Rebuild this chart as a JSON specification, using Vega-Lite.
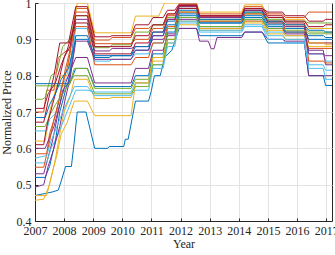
{
"$schema": "https://vega.github.io/schema/vega-lite/v6.json",
"width": 297, "height": 218,
"autosize": {"type": "none"},
"padding": {"left": 35, "top": 3, "right": 3, "bottom": 34},
"background": "white",
"config": {
 "view": {"stroke": "#262626", "strokeWidth": 1},
 "axis": {"labelFont": "Liberation Serif", "labelFontSize": 12, "labelColor": "#262626", "titleFont": "Liberation Serif", "titleFontSize": 12, "titleFontWeight": "normal", "titleColor": "#262626", "gridColor": "#e3e3e3", "domainColor": "#262626", "tickColor": "#262626", "tickSize": -3, "labelPadding": 7}
},
"data": {"values": [
{"s":1,"t":2007,"v":0.47},{"s":1,"t":2007.6,"v":0.48},{"s":1,"t":2007.8,"v":0.485},{"s":1,"t":2007.9,"v":0.51},{"s":1,"t":2008.05,"v":0.55},{"s":1,"t":2008.25,"v":0.55},{"s":1,"t":2008.35,"v":0.62},{"s":1,"t":2008.45,"v":0.70},{"s":1,"t":2008.75,"v":0.70},{"s":1,"t":2009.05,"v":0.60},{"s":1,"t":2009.5,"v":0.60},{"s":1,"t":2009.55,"v":0.605},{"s":1,"t":2010.05,"v":0.605},{"s":1,"t":2010.1,"v":0.625},{"s":1,"t":2010.2,"v":0.625},{"s":1,"t":2010.45,"v":0.73},{"s":1,"t":2010.9,"v":0.73},{"s":1,"t":2011.0,"v":0.76},{"s":1,"t":2011.1,"v":0.80},{"s":1,"t":2011.3,"v":0.80},{"s":1,"t":2011.45,"v":0.85},{"s":1,"t":2011.7,"v":0.87},{"s":1,"t":2011.95,"v":0.93},{"s":1,"t":2012.55,"v":0.93},{"s":1,"t":2012.65,"v":0.91},{"s":1,"t":2014.1,"v":0.91},{"s":1,"t":2014.2,"v":0.92},{"s":1,"t":2014.8,"v":0.92},{"s":1,"t":2015.0,"v":0.89},{"s":1,"t":2016.25,"v":0.89},{"s":1,"t":2016.4,"v":0.80},{"s":1,"t":2016.9,"v":0.80},{"s":1,"t":2016.98,"v":0.773},{"s":1,"t":2017.2,"v":0.773},
{"s":2,"t":2007,"v":0.70},{"s":2,"t":2007.3,"v":0.70},{"s":2,"t":2007.4,"v":0.76},{"s":2,"t":2007.65,"v":0.76},{"s":2,"t":2007.8,"v":0.85},{"s":2,"t":2008.1,"v":0.87},{"s":2,"t":2008.2,"v":0.87},{"s":2,"t":2008.4,"v":0.985},{"s":2,"t":2008.8,"v":0.985},{"s":2,"t":2009.05,"v":0.898},{"s":2,"t":2009.55,"v":0.898},{"s":2,"t":2009.65,"v":0.905},{"s":2,"t":2010.3,"v":0.905},{"s":2,"t":2010.45,"v":0.93},{"s":2,"t":2010.9,"v":0.93},{"s":2,"t":2011.05,"v":0.94},{"s":2,"t":2011.4,"v":0.94},{"s":2,"t":2011.55,"v":0.97},{"s":2,"t":2011.8,"v":0.97},{"s":2,"t":2011.95,"v":0.995},{"s":2,"t":2012.55,"v":0.995},{"s":2,"t":2012.65,"v":0.97},{"s":2,"t":2014.1,"v":0.97},{"s":2,"t":2014.2,"v":0.99},{"s":2,"t":2014.8,"v":0.99},{"s":2,"t":2015.0,"v":0.97},{"s":2,"t":2015.5,"v":0.97},{"s":2,"t":2015.6,"v":0.96},{"s":2,"t":2016.25,"v":0.96},{"s":2,"t":2016.4,"v":0.975},{"s":2,"t":2017.2,"v":0.975},
{"s":3,"t":2007,"v":0.62},{"s":3,"t":2007.35,"v":0.62},{"s":3,"t":2007.5,"v":0.70},{"s":3,"t":2007.7,"v":0.76},{"s":3,"t":2007.9,"v":0.80},{"s":3,"t":2008.1,"v":0.80},{"s":3,"t":2008.2,"v":0.86},{"s":3,"t":2008.45,"v":1.0},{"s":3,"t":2008.8,"v":1.0},{"s":3,"t":2009.05,"v":0.918},{"s":3,"t":2010.3,"v":0.918},{"s":3,"t":2010.45,"v":0.964},{"s":3,"t":2011.25,"v":0.964},{"s":3,"t":2011.45,"v":1.0},{"s":3,"t":2012.55,"v":1.0},{"s":3,"t":2012.65,"v":0.975},{"s":3,"t":2014.1,"v":0.975},{"s":3,"t":2014.2,"v":0.995},{"s":3,"t":2014.8,"v":0.995},{"s":3,"t":2015.0,"v":0.96},{"s":3,"t":2015.5,"v":0.96},{"s":3,"t":2015.6,"v":0.955},{"s":3,"t":2016.25,"v":0.955},{"s":3,"t":2016.4,"v":0.93},{"s":3,"t":2017.2,"v":0.93},
{"s":4,"t":2007,"v":0.53},{"s":4,"t":2007.3,"v":0.53},{"s":4,"t":2007.4,"v":0.56},{"s":4,"t":2007.6,"v":0.62},{"s":4,"t":2007.8,"v":0.70},{"s":4,"t":2007.95,"v":0.76},{"s":4,"t":2008.15,"v":0.78},{"s":4,"t":2008.4,"v":0.955},{"s":4,"t":2008.8,"v":0.955},{"s":4,"t":2009.05,"v":0.868},{"s":4,"t":2009.55,"v":0.868},{"s":4,"t":2009.65,"v":0.875},{"s":4,"t":2010.3,"v":0.875},{"s":4,"t":2010.45,"v":0.88},{"s":4,"t":2010.9,"v":0.88},{"s":4,"t":2011.05,"v":0.90},{"s":4,"t":2011.4,"v":0.90},{"s":4,"t":2011.55,"v":0.915},{"s":4,"t":2011.8,"v":0.915},{"s":4,"t":2011.95,"v":0.93},{"s":4,"t":2012.55,"v":0.93},{"s":4,"t":2012.65,"v":0.895},{"s":4,"t":2012.95,"v":0.895},{"s":4,"t":2013.05,"v":0.874},{"s":4,"t":2013.15,"v":0.874},{"s":4,"t":2013.25,"v":0.905},{"s":4,"t":2014.1,"v":0.905},{"s":4,"t":2014.2,"v":0.92},{"s":4,"t":2014.8,"v":0.92},{"s":4,"t":2015.0,"v":0.90},{"s":4,"t":2015.5,"v":0.90},{"s":4,"t":2015.6,"v":0.895},{"s":4,"t":2016.25,"v":0.895},{"s":4,"t":2016.4,"v":0.80},{"s":4,"t":2017.2,"v":0.80},
{"s":5,"t":2007,"v":0.735},{"s":5,"t":2007.25,"v":0.735},{"s":5,"t":2007.35,"v":0.74},{"s":5,"t":2007.55,"v":0.80},{"s":5,"t":2007.75,"v":0.81},{"s":5,"t":2007.95,"v":0.88},{"s":5,"t":2008.2,"v":0.90},{"s":5,"t":2008.4,"v":0.965},{"s":5,"t":2008.8,"v":0.965},{"s":5,"t":2009.05,"v":0.877},{"s":5,"t":2009.55,"v":0.877},{"s":5,"t":2009.65,"v":0.885},{"s":5,"t":2010.3,"v":0.885},{"s":5,"t":2010.45,"v":0.92},{"s":5,"t":2010.9,"v":0.92},{"s":5,"t":2011.05,"v":0.94},{"s":5,"t":2011.4,"v":0.94},{"s":5,"t":2011.55,"v":0.96},{"s":5,"t":2011.8,"v":0.96},{"s":5,"t":2011.95,"v":0.985},{"s":5,"t":2012.55,"v":0.985},{"s":5,"t":2012.65,"v":0.955},{"s":5,"t":2014.1,"v":0.955},{"s":5,"t":2014.2,"v":0.975},{"s":5,"t":2014.8,"v":0.975},{"s":5,"t":2015.0,"v":0.955},{"s":5,"t":2015.5,"v":0.955},{"s":5,"t":2015.6,"v":0.95},{"s":5,"t":2016.25,"v":0.95},{"s":5,"t":2016.4,"v":0.945},{"s":5,"t":2017.2,"v":0.945},
{"s":6,"t":2007,"v":0.648},{"s":6,"t":2007.4,"v":0.648},{"s":6,"t":2007.5,"v":0.68},{"s":6,"t":2007.75,"v":0.70},{"s":6,"t":2007.9,"v":0.77},{"s":6,"t":2008.15,"v":0.80},{"s":6,"t":2008.4,"v":0.93},{"s":6,"t":2008.8,"v":0.93},{"s":6,"t":2009.05,"v":0.84},{"s":6,"t":2009.55,"v":0.84},{"s":6,"t":2009.65,"v":0.845},{"s":6,"t":2010.3,"v":0.845},{"s":6,"t":2010.45,"v":0.86},{"s":6,"t":2010.9,"v":0.86},{"s":6,"t":2011.05,"v":0.89},{"s":6,"t":2011.4,"v":0.89},{"s":6,"t":2011.55,"v":0.93},{"s":6,"t":2011.8,"v":0.93},{"s":6,"t":2011.95,"v":0.96},{"s":6,"t":2012.55,"v":0.96},{"s":6,"t":2012.65,"v":0.935},{"s":6,"t":2014.1,"v":0.935},{"s":6,"t":2014.2,"v":0.955},{"s":6,"t":2014.8,"v":0.955},{"s":6,"t":2015.0,"v":0.92},{"s":6,"t":2015.5,"v":0.92},{"s":6,"t":2015.6,"v":0.91},{"s":6,"t":2016.25,"v":0.91},{"s":6,"t":2016.4,"v":0.86},{"s":6,"t":2016.9,"v":0.86},{"s":6,"t":2016.98,"v":0.84},{"s":6,"t":2017.2,"v":0.84},
{"s":7,"t":2007,"v":0.672},{"s":7,"t":2007.3,"v":0.672},{"s":7,"t":2007.45,"v":0.73},{"s":7,"t":2007.65,"v":0.80},{"s":7,"t":2007.85,"v":0.89},{"s":7,"t":2008.15,"v":0.89},{"s":7,"t":2008.4,"v":0.99},{"s":7,"t":2008.8,"v":0.99},{"s":7,"t":2009.05,"v":0.907},{"s":7,"t":2009.55,"v":0.907},{"s":7,"t":2009.65,"v":0.91},{"s":7,"t":2010.3,"v":0.91},{"s":7,"t":2010.45,"v":0.94},{"s":7,"t":2010.9,"v":0.94},{"s":7,"t":2011.05,"v":0.96},{"s":7,"t":2011.4,"v":0.96},{"s":7,"t":2011.55,"v":0.98},{"s":7,"t":2011.8,"v":0.98},{"s":7,"t":2011.95,"v":0.997},{"s":7,"t":2012.55,"v":0.997},{"s":7,"t":2012.65,"v":0.965},{"s":7,"t":2014.1,"v":0.965},{"s":7,"t":2014.2,"v":0.985},{"s":7,"t":2014.8,"v":0.985},{"s":7,"t":2015.0,"v":0.975},{"s":7,"t":2015.5,"v":0.975},{"s":7,"t":2015.6,"v":0.965},{"s":7,"t":2016.25,"v":0.965},{"s":7,"t":2016.4,"v":0.95},{"s":7,"t":2016.9,"v":0.95},{"s":7,"t":2016.98,"v":0.955},{"s":7,"t":2017.2,"v":0.955},
{"s":8,"t":2007,"v":0.778},{"s":8,"t":2008.2,"v":0.778},{"s":8,"t":2008.25,"v":0.79},{"s":8,"t":2008.4,"v":0.82},{"s":8,"t":2008.8,"v":0.82},{"s":8,"t":2009.05,"v":0.77},{"s":8,"t":2010.3,"v":0.77},{"s":8,"t":2010.45,"v":0.80},{"s":8,"t":2010.9,"v":0.80},{"s":8,"t":2011.05,"v":0.86},{"s":8,"t":2011.4,"v":0.86},{"s":8,"t":2011.55,"v":0.92},{"s":8,"t":2011.8,"v":0.92},{"s":8,"t":2011.95,"v":0.965},{"s":8,"t":2012.55,"v":0.965},{"s":8,"t":2012.65,"v":0.945},{"s":8,"t":2014.1,"v":0.945},{"s":8,"t":2014.2,"v":0.965},{"s":8,"t":2014.8,"v":0.965},{"s":8,"t":2015.0,"v":0.94},{"s":8,"t":2015.5,"v":0.94},{"s":8,"t":2015.6,"v":0.93},{"s":8,"t":2016.25,"v":0.93},{"s":8,"t":2016.4,"v":0.90},{"s":8,"t":2017.2,"v":0.90},
{"s":9,"t":2007,"v":0.585},{"s":9,"t":2007.4,"v":0.585},{"s":9,"t":2007.5,"v":0.64},{"s":9,"t":2007.7,"v":0.69},{"s":9,"t":2007.9,"v":0.76},{"s":9,"t":2008.1,"v":0.82},{"s":9,"t":2008.2,"v":0.86},{"s":9,"t":2008.4,"v":0.975},{"s":9,"t":2008.8,"v":0.975},{"s":9,"t":2009.05,"v":0.888},{"s":9,"t":2010.3,"v":0.888},{"s":9,"t":2010.45,"v":0.90},{"s":9,"t":2010.9,"v":0.90},{"s":9,"t":2011.05,"v":0.93},{"s":9,"t":2011.4,"v":0.93},{"s":9,"t":2011.55,"v":0.965},{"s":9,"t":2011.8,"v":0.965},{"s":9,"t":2011.95,"v":0.99},{"s":9,"t":2012.55,"v":0.99},{"s":9,"t":2012.65,"v":0.96},{"s":9,"t":2014.1,"v":0.96},{"s":9,"t":2014.2,"v":0.98},{"s":9,"t":2014.8,"v":0.98},{"s":9,"t":2015.0,"v":0.95},{"s":9,"t":2015.5,"v":0.95},{"s":9,"t":2015.6,"v":0.92},{"s":9,"t":2016.25,"v":0.92},{"s":9,"t":2016.4,"v":0.875},{"s":9,"t":2017.2,"v":0.875},
{"s":10,"t":2007,"v":0.457},{"s":10,"t":2007.3,"v":0.46},{"s":10,"t":2007.5,"v":0.50},{"s":10,"t":2007.7,"v":0.57},{"s":10,"t":2007.85,"v":0.64},{"s":10,"t":2008.0,"v":0.70},{"s":10,"t":2008.2,"v":0.74},{"s":10,"t":2008.35,"v":0.79},{"s":10,"t":2008.8,"v":0.79},{"s":10,"t":2009.05,"v":0.737},{"s":10,"t":2009.55,"v":0.737},{"s":10,"t":2009.65,"v":0.74},{"s":10,"t":2010.3,"v":0.74},{"s":10,"t":2010.45,"v":0.78},{"s":10,"t":2010.9,"v":0.78},{"s":10,"t":2011.05,"v":0.84},{"s":10,"t":2011.4,"v":0.84},{"s":10,"t":2011.55,"v":0.89},{"s":10,"t":2011.8,"v":0.89},{"s":10,"t":2011.95,"v":0.94},{"s":10,"t":2012.55,"v":0.94},{"s":10,"t":2012.65,"v":0.925},{"s":10,"t":2014.1,"v":0.925},{"s":10,"t":2014.2,"v":0.945},{"s":10,"t":2014.8,"v":0.945},{"s":10,"t":2015.0,"v":0.915},{"s":10,"t":2015.5,"v":0.915},{"s":10,"t":2015.6,"v":0.90},{"s":10,"t":2016.25,"v":0.90},{"s":10,"t":2016.4,"v":0.88},{"s":10,"t":2017.2,"v":0.88},
{"s":11,"t":2007,"v":0.60},{"s":11,"t":2007.35,"v":0.60},{"s":11,"t":2007.45,"v":0.62},{"s":11,"t":2007.65,"v":0.66},{"s":11,"t":2007.85,"v":0.72},{"s":11,"t":2008.05,"v":0.78},{"s":11,"t":2008.4,"v":0.85},{"s":11,"t":2008.8,"v":0.85},{"s":11,"t":2009.05,"v":0.78},{"s":11,"t":2010.3,"v":0.78},{"s":11,"t":2010.45,"v":0.82},{"s":11,"t":2010.9,"v":0.82},{"s":11,"t":2011.05,"v":0.87},{"s":11,"t":2011.4,"v":0.87},{"s":11,"t":2011.55,"v":0.91},{"s":11,"t":2011.8,"v":0.91},{"s":11,"t":2011.95,"v":0.955},{"s":11,"t":2012.55,"v":0.955},{"s":11,"t":2012.65,"v":0.93},{"s":11,"t":2014.1,"v":0.93},{"s":11,"t":2014.2,"v":0.95},{"s":11,"t":2014.8,"v":0.95},{"s":11,"t":2015.0,"v":0.93},{"s":11,"t":2015.5,"v":0.93},{"s":11,"t":2015.6,"v":0.915},{"s":11,"t":2016.25,"v":0.915},{"s":11,"t":2016.4,"v":0.87},{"s":11,"t":2016.9,"v":0.87},{"s":11,"t":2016.98,"v":0.83},{"s":11,"t":2017.2,"v":0.83},
{"s":12,"t":2007,"v":0.772},{"s":12,"t":2008.15,"v":0.772},{"s":12,"t":2008.2,"v":0.78},{"s":12,"t":2008.35,"v":0.82},{"s":12,"t":2008.8,"v":0.82},{"s":12,"t":2009.05,"v":0.765},{"s":12,"t":2010.3,"v":0.765},{"s":12,"t":2010.45,"v":0.79},{"s":12,"t":2010.9,"v":0.79},{"s":12,"t":2011.05,"v":0.85},{"s":12,"t":2011.4,"v":0.85},{"s":12,"t":2011.55,"v":0.93},{"s":12,"t":2011.8,"v":0.93},{"s":12,"t":2011.95,"v":0.975},{"s":12,"t":2012.55,"v":0.975},{"s":12,"t":2012.65,"v":0.95},{"s":12,"t":2014.1,"v":0.95},{"s":12,"t":2014.2,"v":0.97},{"s":12,"t":2014.8,"v":0.97},{"s":12,"t":2015.0,"v":0.945},{"s":12,"t":2015.5,"v":0.945},{"s":12,"t":2015.6,"v":0.935},{"s":12,"t":2016.25,"v":0.935},{"s":12,"t":2016.4,"v":0.92},{"s":12,"t":2016.9,"v":0.92},{"s":12,"t":2016.98,"v":0.915},{"s":12,"t":2017.2,"v":0.915},
{"s":13,"t":2007,"v":0.56},{"s":13,"t":2007.4,"v":0.56},{"s":13,"t":2007.55,"v":0.60},{"s":13,"t":2007.75,"v":0.63},{"s":13,"t":2007.9,"v":0.66},{"s":13,"t":2008.1,"v":0.70},{"s":13,"t":2008.4,"v":0.76},{"s":13,"t":2008.8,"v":0.76},{"s":13,"t":2009.05,"v":0.755},{"s":13,"t":2010.3,"v":0.755},{"s":13,"t":2010.45,"v":0.78},{"s":13,"t":2010.9,"v":0.78},{"s":13,"t":2011.05,"v":0.83},{"s":13,"t":2011.4,"v":0.83},{"s":13,"t":2011.55,"v":0.89},{"s":13,"t":2011.8,"v":0.89},{"s":13,"t":2011.95,"v":0.945},{"s":13,"t":2012.55,"v":0.945},{"s":13,"t":2012.65,"v":0.92},{"s":13,"t":2014.1,"v":0.92},{"s":13,"t":2014.2,"v":0.935},{"s":13,"t":2014.8,"v":0.935},{"s":13,"t":2015.0,"v":0.90},{"s":13,"t":2015.5,"v":0.90},{"s":13,"t":2015.6,"v":0.89},{"s":13,"t":2016.25,"v":0.89},{"s":13,"t":2016.4,"v":0.83},{"s":13,"t":2016.9,"v":0.83},{"s":13,"t":2016.98,"v":0.815},{"s":13,"t":2017.2,"v":0.815},
{"s":14,"t":2007,"v":0.71},{"s":14,"t":2007.3,"v":0.71},{"s":14,"t":2007.45,"v":0.75},{"s":14,"t":2007.7,"v":0.78},{"s":14,"t":2007.9,"v":0.83},{"s":14,"t":2008.1,"v":0.87},{"s":14,"t":2008.4,"v":0.945},{"s":14,"t":2008.8,"v":0.945},{"s":14,"t":2009.05,"v":0.86},{"s":14,"t":2010.3,"v":0.86},{"s":14,"t":2010.45,"v":0.89},{"s":14,"t":2010.9,"v":0.89},{"s":14,"t":2011.05,"v":0.92},{"s":14,"t":2011.4,"v":0.92},{"s":14,"t":2011.55,"v":0.955},{"s":14,"t":2011.8,"v":0.955},{"s":14,"t":2011.95,"v":0.985},{"s":14,"t":2012.55,"v":0.985},{"s":14,"t":2012.65,"v":0.962},{"s":14,"t":2014.1,"v":0.962},{"s":14,"t":2014.2,"v":0.98},{"s":14,"t":2014.8,"v":0.98},{"s":14,"t":2015.0,"v":0.96},{"s":14,"t":2015.5,"v":0.96},{"s":14,"t":2015.6,"v":0.945},{"s":14,"t":2016.25,"v":0.945},{"s":14,"t":2016.4,"v":0.89},{"s":14,"t":2017.2,"v":0.89},
{"s":15,"t":2007,"v":0.52},{"s":15,"t":2007.35,"v":0.52},{"s":15,"t":2007.5,"v":0.55},{"s":15,"t":2007.7,"v":0.62},{"s":15,"t":2007.85,"v":0.70},{"s":15,"t":2008.05,"v":0.76},{"s":15,"t":2008.2,"v":0.80},{"s":15,"t":2008.4,"v":0.91},{"s":15,"t":2008.8,"v":0.91},{"s":15,"t":2009.05,"v":0.85},{"s":15,"t":2009.55,"v":0.85},{"s":15,"t":2009.65,"v":0.855},{"s":15,"t":2010.3,"v":0.855},{"s":15,"t":2010.45,"v":0.87},{"s":15,"t":2010.9,"v":0.87},{"s":15,"t":2011.05,"v":0.91},{"s":15,"t":2011.4,"v":0.91},{"s":15,"t":2011.55,"v":0.94},{"s":15,"t":2011.8,"v":0.94},{"s":15,"t":2011.95,"v":0.97},{"s":15,"t":2012.55,"v":0.97},{"s":15,"t":2012.65,"v":0.945},{"s":15,"t":2014.1,"v":0.945},{"s":15,"t":2014.2,"v":0.96},{"s":15,"t":2014.8,"v":0.96},{"s":15,"t":2015.0,"v":0.935},{"s":15,"t":2015.5,"v":0.935},{"s":15,"t":2015.6,"v":0.92},{"s":15,"t":2016.25,"v":0.92},{"s":15,"t":2016.4,"v":0.91},{"s":15,"t":2016.9,"v":0.91},{"s":15,"t":2016.98,"v":0.905},{"s":15,"t":2017.2,"v":0.905},
{"s":16,"t":2007,"v":0.548},{"s":16,"t":2007.3,"v":0.548},{"s":16,"t":2007.45,"v":0.60},{"s":16,"t":2007.65,"v":0.68},{"s":16,"t":2007.85,"v":0.74},{"s":16,"t":2008.05,"v":0.82},{"s":16,"t":2008.4,"v":0.935},{"s":16,"t":2008.8,"v":0.935},{"s":16,"t":2009.05,"v":0.83},{"s":16,"t":2010.3,"v":0.83},{"s":16,"t":2010.45,"v":0.85},{"s":16,"t":2010.9,"v":0.85},{"s":16,"t":2011.05,"v":0.89},{"s":16,"t":2011.4,"v":0.89},{"s":16,"t":2011.55,"v":0.935},{"s":16,"t":2011.8,"v":0.935},{"s":16,"t":2011.95,"v":0.975},{"s":16,"t":2012.55,"v":0.975},{"s":16,"t":2012.65,"v":0.95},{"s":16,"t":2014.1,"v":0.95},{"s":16,"t":2014.2,"v":0.97},{"s":16,"t":2014.8,"v":0.97},{"s":16,"t":2015.0,"v":0.95},{"s":16,"t":2015.5,"v":0.95},{"s":16,"t":2015.6,"v":0.94},{"s":16,"t":2016.25,"v":0.94},{"s":16,"t":2016.4,"v":0.84},{"s":16,"t":2016.9,"v":0.84},{"s":16,"t":2016.98,"v":0.835},{"s":16,"t":2017.2,"v":0.835},
{"s":17,"t":2007,"v":0.47},{"s":17,"t":2007.4,"v":0.47},{"s":17,"t":2007.55,"v":0.52},{"s":17,"t":2007.75,"v":0.58},{"s":17,"t":2007.9,"v":0.64},{"s":17,"t":2008.1,"v":0.67},{"s":17,"t":2008.35,"v":0.73},{"s":17,"t":2008.8,"v":0.73},{"s":17,"t":2009.05,"v":0.69},{"s":17,"t":2010.3,"v":0.69},{"s":17,"t":2010.45,"v":0.78},{"s":17,"t":2010.9,"v":0.78},{"s":17,"t":2011.05,"v":0.85},{"s":17,"t":2011.4,"v":0.85},{"s":17,"t":2011.55,"v":0.90},{"s":17,"t":2011.8,"v":0.90},{"s":17,"t":2011.95,"v":0.95},{"s":17,"t":2012.55,"v":0.95},{"s":17,"t":2012.65,"v":0.93},{"s":17,"t":2014.1,"v":0.93},{"s":17,"t":2014.2,"v":0.95},{"s":17,"t":2014.8,"v":0.95},{"s":17,"t":2015.0,"v":0.925},{"s":17,"t":2015.5,"v":0.925},{"s":17,"t":2015.6,"v":0.91},{"s":17,"t":2016.25,"v":0.91},{"s":17,"t":2016.4,"v":0.89},{"s":17,"t":2016.9,"v":0.89},{"s":17,"t":2016.98,"v":0.885},{"s":17,"t":2017.2,"v":0.885},
{"s":18,"t":2007,"v":0.493},{"s":18,"t":2007.3,"v":0.50},{"s":18,"t":2007.45,"v":0.55},{"s":18,"t":2007.65,"v":0.60},{"s":18,"t":2007.85,"v":0.66},{"s":18,"t":2008.05,"v":0.74},{"s":18,"t":2008.2,"v":0.79},{"s":18,"t":2008.4,"v":0.895},{"s":18,"t":2008.8,"v":0.895},{"s":18,"t":2009.05,"v":0.845},{"s":18,"t":2010.3,"v":0.845},{"s":18,"t":2010.45,"v":0.87},{"s":18,"t":2010.9,"v":0.87},{"s":18,"t":2011.05,"v":0.91},{"s":18,"t":2011.4,"v":0.91},{"s":18,"t":2011.55,"v":0.955},{"s":18,"t":2011.8,"v":0.955},{"s":18,"t":2011.95,"v":0.99},{"s":18,"t":2012.55,"v":0.99},{"s":18,"t":2012.65,"v":0.96},{"s":18,"t":2014.1,"v":0.96},{"s":18,"t":2014.2,"v":0.98},{"s":18,"t":2014.8,"v":0.98},{"s":18,"t":2015.0,"v":0.945},{"s":18,"t":2015.5,"v":0.945},{"s":18,"t":2015.6,"v":0.935},{"s":18,"t":2016.25,"v":0.935},{"s":18,"t":2016.4,"v":0.86},{"s":18,"t":2016.9,"v":0.86},{"s":18,"t":2016.98,"v":0.855},{"s":18,"t":2017.2,"v":0.855},
{"s":19,"t":2007,"v":0.66},{"s":19,"t":2007.35,"v":0.66},{"s":19,"t":2007.5,"v":0.69},{"s":19,"t":2007.7,"v":0.72},{"s":19,"t":2007.95,"v":0.75},{"s":19,"t":2008.35,"v":0.80},{"s":19,"t":2008.8,"v":0.80},{"s":19,"t":2009.05,"v":0.75},{"s":19,"t":2010.3,"v":0.75},{"s":19,"t":2010.45,"v":0.77},{"s":19,"t":2010.9,"v":0.77},{"s":19,"t":2011.05,"v":0.83},{"s":19,"t":2011.4,"v":0.83},{"s":19,"t":2011.55,"v":0.90},{"s":19,"t":2011.8,"v":0.90},{"s":19,"t":2011.95,"v":0.96},{"s":19,"t":2012.55,"v":0.96},{"s":19,"t":2012.65,"v":0.935},{"s":19,"t":2014.1,"v":0.935},{"s":19,"t":2014.2,"v":0.955},{"s":19,"t":2014.8,"v":0.955},{"s":19,"t":2015.0,"v":0.93},{"s":19,"t":2015.5,"v":0.93},{"s":19,"t":2015.6,"v":0.925},{"s":19,"t":2016.25,"v":0.925},{"s":19,"t":2016.4,"v":0.915},{"s":19,"t":2016.9,"v":0.915},{"s":19,"t":2016.98,"v":0.92},{"s":19,"t":2017.2,"v":0.92},
{"s":20,"t":2007,"v":0.573},{"s":20,"t":2007.4,"v":0.58},{"s":20,"t":2007.55,"v":0.62},{"s":20,"t":2007.75,"v":0.66},{"s":20,"t":2007.95,"v":0.70},{"s":20,"t":2008.35,"v":0.77},{"s":20,"t":2008.8,"v":0.77},{"s":20,"t":2009.05,"v":0.745},{"s":20,"t":2010.3,"v":0.745},{"s":20,"t":2010.45,"v":0.76},{"s":20,"t":2010.9,"v":0.76},{"s":20,"t":2011.05,"v":0.82},{"s":20,"t":2011.4,"v":0.82},{"s":20,"t":2011.55,"v":0.88},{"s":20,"t":2011.8,"v":0.88},{"s":20,"t":2011.95,"v":0.95},{"s":20,"t":2012.55,"v":0.95},{"s":20,"t":2012.65,"v":0.925},{"s":20,"t":2014.1,"v":0.925},{"s":20,"t":2014.2,"v":0.94},{"s":20,"t":2014.8,"v":0.94},{"s":20,"t":2015.0,"v":0.91},{"s":20,"t":2015.5,"v":0.91},{"s":20,"t":2015.6,"v":0.90},{"s":20,"t":2016.25,"v":0.90},{"s":20,"t":2016.4,"v":0.82},{"s":20,"t":2016.9,"v":0.82},{"s":20,"t":2016.98,"v":0.79},{"s":20,"t":2017.2,"v":0.79},
{"s":21,"t":2007,"v":0.61},{"s":21,"t":2007.3,"v":0.61},{"s":21,"t":2007.4,"v":0.66},{"s":21,"t":2007.6,"v":0.72},{"s":21,"t":2007.8,"v":0.78},{"s":21,"t":2008.0,"v":0.85},{"s":21,"t":2008.2,"v":0.88},{"s":21,"t":2008.4,"v":0.965},{"s":21,"t":2008.8,"v":0.965},{"s":21,"t":2009.05,"v":0.88},{"s":21,"t":2010.3,"v":0.88},{"s":21,"t":2010.45,"v":0.91},{"s":21,"t":2010.9,"v":0.91},{"s":21,"t":2011.05,"v":0.94},{"s":21,"t":2011.4,"v":0.94},{"s":21,"t":2011.55,"v":0.97},{"s":21,"t":2011.8,"v":0.97},{"s":21,"t":2011.95,"v":0.993},{"s":21,"t":2012.55,"v":0.993},{"s":21,"t":2012.65,"v":0.965},{"s":21,"t":2014.1,"v":0.965},{"s":21,"t":2014.2,"v":0.985},{"s":21,"t":2014.8,"v":0.985},{"s":21,"t":2015.0,"v":0.965},{"s":21,"t":2015.5,"v":0.965},{"s":21,"t":2015.6,"v":0.95},{"s":21,"t":2016.25,"v":0.95},{"s":21,"t":2016.4,"v":0.935},{"s":21,"t":2016.9,"v":0.935},{"s":21,"t":2016.98,"v":0.94},{"s":21,"t":2017.2,"v":0.94},
{"s":22,"t":2007,"v":0.685},{"s":22,"t":2007.35,"v":0.685},{"s":22,"t":2007.5,"v":0.72},{"s":22,"t":2007.7,"v":0.75},{"s":22,"t":2007.9,"v":0.79},{"s":22,"t":2008.15,"v":0.82},{"s":22,"t":2008.4,"v":0.90},{"s":22,"t":2008.8,"v":0.90},{"s":22,"t":2009.05,"v":0.855},{"s":22,"t":2010.3,"v":0.855},{"s":22,"t":2010.45,"v":0.88},{"s":22,"t":2010.9,"v":0.88},{"s":22,"t":2011.05,"v":0.92},{"s":22,"t":2011.4,"v":0.92},{"s":22,"t":2011.55,"v":0.95},{"s":22,"t":2011.8,"v":0.95},{"s":22,"t":2011.95,"v":0.98},{"s":22,"t":2012.55,"v":0.98},{"s":22,"t":2012.65,"v":0.955},{"s":22,"t":2014.1,"v":0.955},{"s":22,"t":2014.2,"v":0.975},{"s":22,"t":2014.8,"v":0.975},{"s":22,"t":2015.0,"v":0.95},{"s":22,"t":2015.5,"v":0.95},{"s":22,"t":2015.6,"v":0.94},{"s":22,"t":2016.25,"v":0.94},{"s":22,"t":2016.4,"v":0.925},{"s":22,"t":2016.9,"v":0.925},{"s":22,"t":2016.98,"v":0.92},{"s":22,"t":2017.2,"v":0.92}
]},
"mark": {"type": "line", "strokeWidth": 1, "clip": true},
"encoding": {
 "x": {"field": "t", "type": "quantitative", "scale": {"domain": [2007, 2017.2], "nice": false, "zero": false},
  "axis": {"values": [2007,2008,2009,2010,2011,2012,2013,2014,2015,2016,2017], "format": "d", "title": "Year", "titlePadding": 2, "labelFlush": false, "labelOverlap": false}},
 "y": {"field": "v", "type": "quantitative", "scale": {"domain": [0.4, 1], "nice": false, "zero": false},
  "axis": {"values": [0.4,0.5,0.6,0.7,0.8,0.9,1], "labelExpr": "datum.value == 1 ? '1' : format(datum.value, '.1f')", "title": "Normalized Price", "titlePadding": 3}},
 "color": {"field": "s", "type": "nominal", "legend": null,
  "scale": {"domain": [1,2,3,4,5,6,7,8,9,10,11,12,13,14,15,16,17,18,19,20,21,22],
   "range": ["#0072BD","#D95319","#EDB120","#7E2F8E","#77AC30","#4DBEEE","#A2142F","#0072BD","#D95319","#EDB120","#7E2F8E","#77AC30","#4DBEEE","#A2142F","#0072BD","#D95319","#EDB120","#7E2F8E","#77AC30","#4DBEEE","#A2142F","#0072BD"]}}
}
}
